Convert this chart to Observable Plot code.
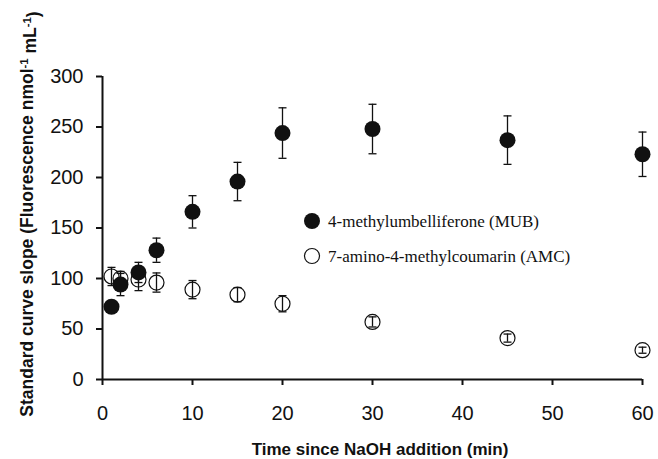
<!DOCTYPE html>
<html><head><meta charset="utf-8">
<script src="https://cdn.jsdelivr.net/npm/d3@7"></script>
<script src="https://cdn.jsdelivr.net/npm/@observablehq/plot@0.6"></script>
<style>body{margin:0;background:#fff}</style>
</head><body><div id="chart"></div>
<script>
const times = [1, 2, 4, 6, 10, 15, 20, 30, 45, 60];
const mubSlope = [72, 94, 106, 128, 166, 196, 244, 248, 237, 223];
const mubErr = [4, 11, 10, 12, 16, 19, 25, 24.5, 24, 22];
const amcSlope = [102, 100, 99, 96, 89, 84, 75, 57, 41, 29];
const amcErr = [9, 7, 11, 9.5, 9, 7, 8, 5, 4, 3];
const xTicks = [0, 10, 20, 30, 40, 50, 60];
const yTicks = [0, 50, 100, 150, 200, 250, 300];
const seriesNames = ["4-methylumbelliferone (MUB)", "7-amino-4-methylcoumarin (AMC)"];
const xTitle = "Time since NaOH addition (min)";

const mub = times.map((t, i) => ({t, v: mubSlope[i], lo: mubSlope[i] - mubErr[i], hi: mubSlope[i] + mubErr[i]}));
const amc = times.map((t, i) => ({t, v: amcSlope[i], lo: amcSlope[i] - amcErr[i], hi: amcSlope[i] + amcErr[i]}));

const cap = {draw(ctx) { ctx.moveTo(-4, 0); ctx.lineTo(4, 0); }};
const ink = "#111";

function bars(data) {
  return [
    Plot.ruleX(data, {x: "t", y1: "lo", y2: "hi", stroke: ink, strokeWidth: 1.3}),
    Plot.dot(data, {x: "t", y: "hi", symbol: cap, fill: "none", stroke: ink, strokeWidth: 1.3}),
    Plot.dot(data, {x: "t", y: "lo", symbol: cap, fill: "none", stroke: ink, strokeWidth: 1.3})
  ];
}

const chart = Plot.plot({
  width: 658,
  height: 459,
  marginLeft: 102,
  marginRight: 16,
  marginTop: 76,
  marginBottom: 80,
  style: {fontFamily: "'Liberation Sans', Arial, sans-serif", fontSize: "20px", color: ink, background: "#fff"},
  x: {domain: [0, 60]},
  y: {domain: [0, 300]},
  marks: [
    Plot.axisX(xTicks, {tickSize: 6, tickPadding: 20, strokeWidth: 2, label: null, fontSize: 20}),
    Plot.axisY(yTicks, {tickSize: 6, tickPadding: 13, strokeWidth: 2, label: null, fontSize: 20}),
    Plot.ruleY([0], {stroke: ink, strokeWidth: 2}),
    Plot.ruleX([0], {stroke: ink, strokeWidth: 2}),
    ...bars(amc),
    Plot.dot(amc, {x: "t", y: "v", r: 7.5, fill: "none", stroke: ink, strokeWidth: 1.2}),
    ...bars(mub),
    Plot.dot(mub, {x: "t", y: "v", r: 8, fill: ink, stroke: "none"})
  ]
});
document.getElementById("chart").append(chart);

const svg = d3.select(chart);
// axis titles
svg.append("text")
  .attr("x", 380).attr("y", 455)
  .attr("text-anchor", "middle")
  .attr("font-weight", "bold").attr("font-size", 17)
  .attr("fill", ink)
  .text(xTitle);

const yl = svg.append("text")
  .attr("transform", "translate(33,214) rotate(-90)")
  .attr("text-anchor", "middle")
  .attr("font-weight", "bold").attr("font-size", 17.5)
  .attr("fill", ink);
yl.append("tspan").text("Standard curve slope (Fluorescence nmol");
yl.append("tspan").attr("dy", "-0.45em").attr("font-size", "0.65em").text("-1");
yl.append("tspan").attr("dy", "0.45em").text(" mL");
yl.append("tspan").attr("dy", "-0.45em").attr("font-size", "0.65em").text("-1");
yl.append("tspan").attr("dy", "0.45em").text(")");

// legend
const lg = svg.append("g")
  .attr("font-family", "'Liberation Serif', 'Times New Roman', serif")
  .attr("font-size", 17).attr("text-anchor", "start").attr("fill", ink);
lg.append("circle").attr("cx", 312).attr("cy", 221).attr("r", 8).attr("fill", ink);
lg.append("text").attr("x", 328).attr("y", 227).text(seriesNames[0]);
lg.append("circle").attr("cx", 312).attr("cy", 256).attr("r", 7.5).attr("fill", "none").attr("stroke", ink).attr("stroke-width", 1.2);
lg.append("text").attr("x", 328).attr("y", 262).text(seriesNames[1]);
</script>
</body></html>
